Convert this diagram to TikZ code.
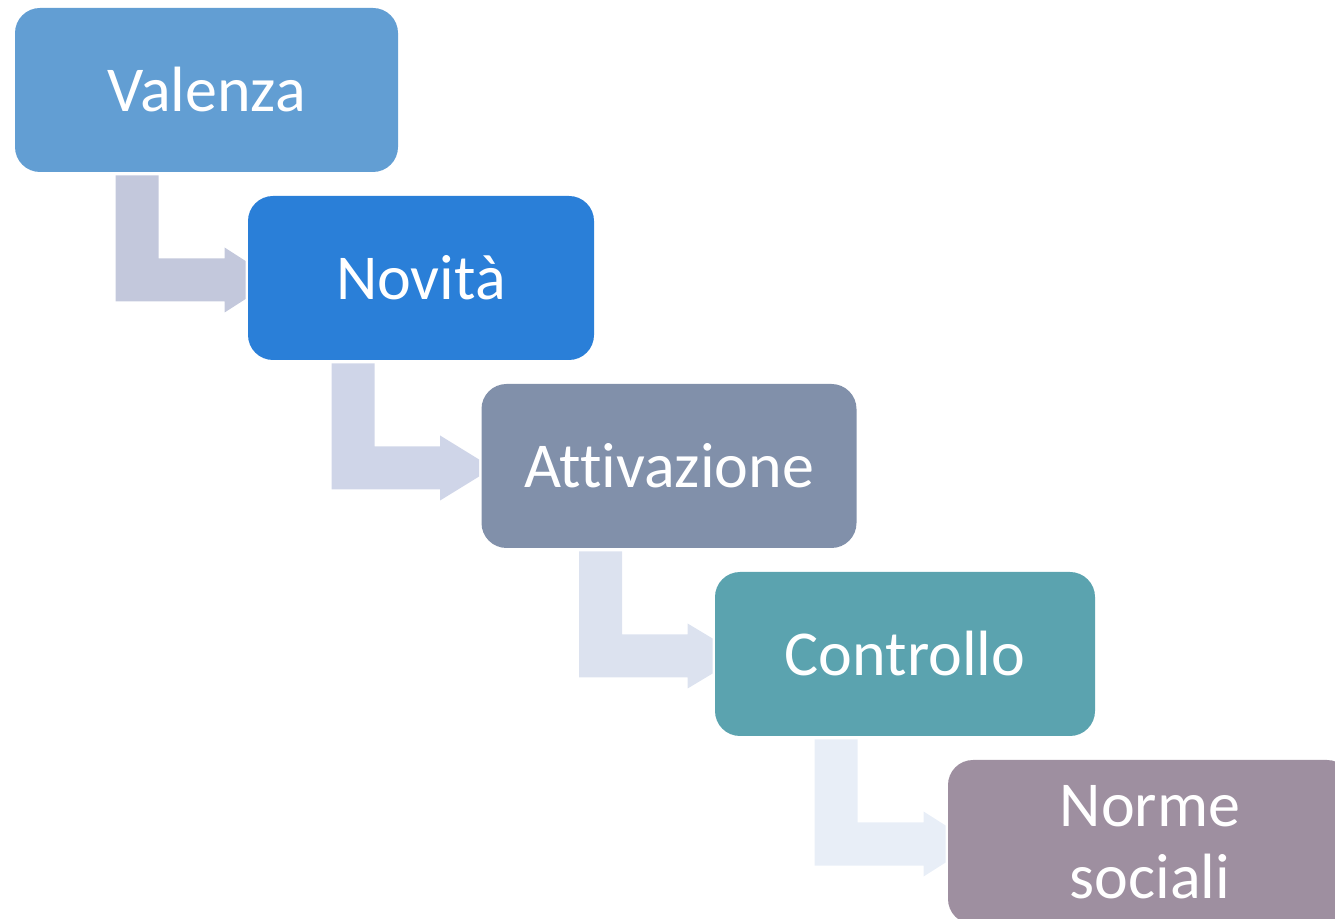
\documentclass[tikz,border=0pt]{standalone}
\usepackage{fontspec}
\setmainfont{Carlito}[Ligatures=NoCommon]
\usetikzlibrary{calc}

\definecolor{valenzacol}{RGB}{98,158,211}
\definecolor{novitacol}{RGB}{42,127,216}
\definecolor{attivcol}{RGB}{129,144,170}
\definecolor{controllocol}{RGB}{91,163,175}
\definecolor{normecol}{RGB}{158,143,160}
\definecolor{arrowA}{RGB}{195,200,220}
\definecolor{arrowB}{RGB}{207,213,232}
\definecolor{arrowC}{RGB}{220,226,239}
\definecolor{arrowD}{RGB}{232,238,247}

\tikzset{
  stepbox/.style={rounded corners=12.5pt, inner sep=0pt, minimum height=82pt,
    text=white, align=center, font=\fontsize{32}{36}\selectfont},
}

% bent arrow: from, to, colour, bar offset, head length, tip half height
\newcommand{\bentarrow}[6]{%
  \coordinate (tip) at ($(#2.west)+(-2,2)$);
  \coordinate (bar) at ($(#1.south west)+(#4,3)$);
  \fill[#3] (bar) -- ++(43,0) |- ($(tip)+(-#5,-21.5)$) -- ++(0,-11)
    -- ($(tip)+(0,-#6)$) -- ($(tip)+(0,#6)$) -- ($(tip)+(-#5,32.5)$)
    -- ++(0,-11) -| (bar) -- cycle;
}

\begin{document}
\begin{tikzpicture}[x=0.5pt,y=-0.5pt]
        \useasboundingbox (0,0) rectangle (1335,919);
        \clip (0,0) rectangle (1335,919);

        % boxes
        \node[stepbox, fill=valenzacol, minimum width=191.5pt] (valenza) at (206.5,90) {Valenza};
        \node[stepbox, fill=novitacol, minimum width=173pt] (novita) at (421,278) {Novità};
        \node[stepbox, fill=attivcol, minimum width=187.5pt] (attivazione) at (669,466) {Attivazione};
        \node[stepbox, fill=controllocol, minimum width=190pt] (controllo) at (905,654) {Controllo};
        \node[stepbox, fill=normecol, minimum width=202pt] (norme) at (1150,842) {Norme\\sociali};

        % arrows
        \bentarrow{valenza}{novita}{arrowA}{101}{21}{19}
        \bentarrow{novita}{attivazione}{arrowB}{84}{39}{8.5}
        \bentarrow{attivazione}{controllo}{arrowC}{98}{25}{17.5}
        \bentarrow{controllo}{norme}{arrowD}{100}{22}{18.5}

    \end{tikzpicture}
\end{document}
